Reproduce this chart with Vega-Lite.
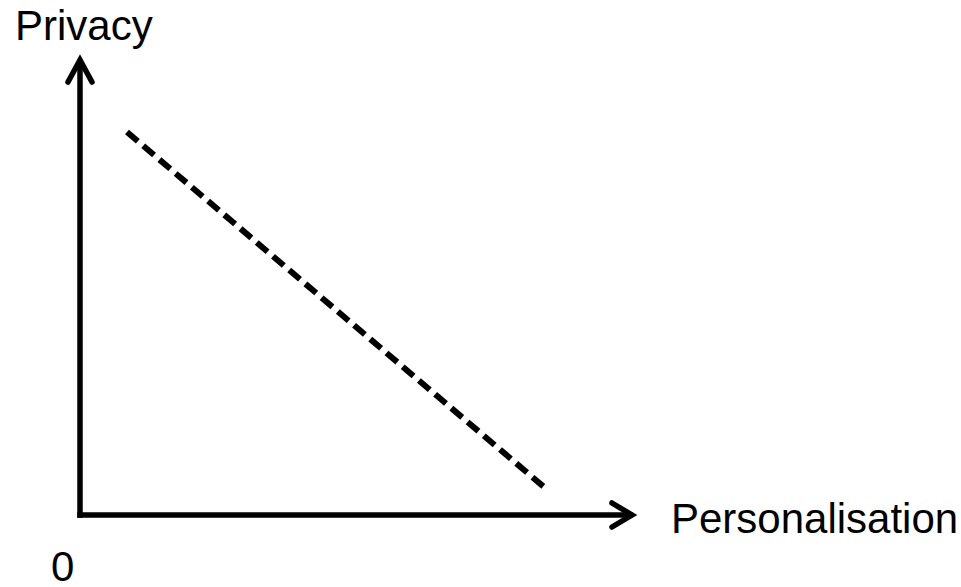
{
  "$schema": "https://vega.github.io/schema/vega-lite/v6.json",
  "width": 961,
  "height": 587,
  "padding": 0,
  "autosize": {"type": "none"},
  "background": "white",
  "config": {"view": {"stroke": null}},
  "datasets": {
    "axes": [
      {"s": "yaxis", "o": 0, "x": 0, "y": 0},
      {"s": "yaxis", "o": 1, "x": 0, "y": 453},
      {"s": "xaxis", "o": 0, "x": 0, "y": 0},
      {"s": "xaxis", "o": 1, "x": 550, "y": 0}
    ],
    "arrows": [
      {"s": "yarrow", "o": 0, "x": -12, "y": 433},
      {"s": "yarrow", "o": 1, "x": 0, "y": 455},
      {"s": "yarrow", "o": 2, "x": 12, "y": 433},
      {"s": "xarrow", "o": 0, "x": 532, "y": 12},
      {"s": "xarrow", "o": 1, "x": 552, "y": 0},
      {"s": "xarrow", "o": 2, "x": 532, "y": -12}
    ],
    "tradeoff": [
      {"o": 0, "x": 47, "y": 383},
      {"o": 1, "x": 464, "y": 28}
    ],
    "labels": [
      {"label": "Privacy", "x": -65, "y": 475},
      {"label": "Personalisation", "x": 591, "y": -18},
      {"label": "0", "x": -29, "y": -66}
    ]
  },
  "encoding": {
    "x": {"field": "x", "type": "quantitative", "axis": null, "scale": {"domain": [-80, 881], "nice": false, "zero": false}},
    "y": {"field": "y", "type": "quantitative", "axis": null, "scale": {"domain": [-72, 515], "nice": false, "zero": false}}
  },
  "layer": [
    {
      "data": {"name": "axes"},
      "mark": {"type": "line", "color": "black", "strokeWidth": 5.5, "strokeCap": "square", "strokeJoin": "miter"},
      "encoding": {"detail": {"field": "s"}, "order": {"field": "o"}}
    },
    {
      "data": {"name": "arrows"},
      "mark": {"type": "line", "color": "black", "strokeWidth": 5.5, "strokeCap": "round", "strokeJoin": "miter"},
      "encoding": {"detail": {"field": "s"}, "order": {"field": "o"}}
    },
    {
      "data": {"name": "tradeoff"},
      "mark": {"type": "line", "color": "black", "strokeWidth": 6, "strokeDash": [14.2, 7.1], "strokeCap": "butt"},
      "encoding": {"order": {"field": "o"}}
    },
    {
      "data": {"name": "labels"},
      "mark": {"type": "text", "align": "left", "baseline": "alphabetic", "font": "Liberation Sans", "fontSize": 42, "color": "black"},
      "encoding": {"text": {"field": "label"}}
    }
  ]
}
